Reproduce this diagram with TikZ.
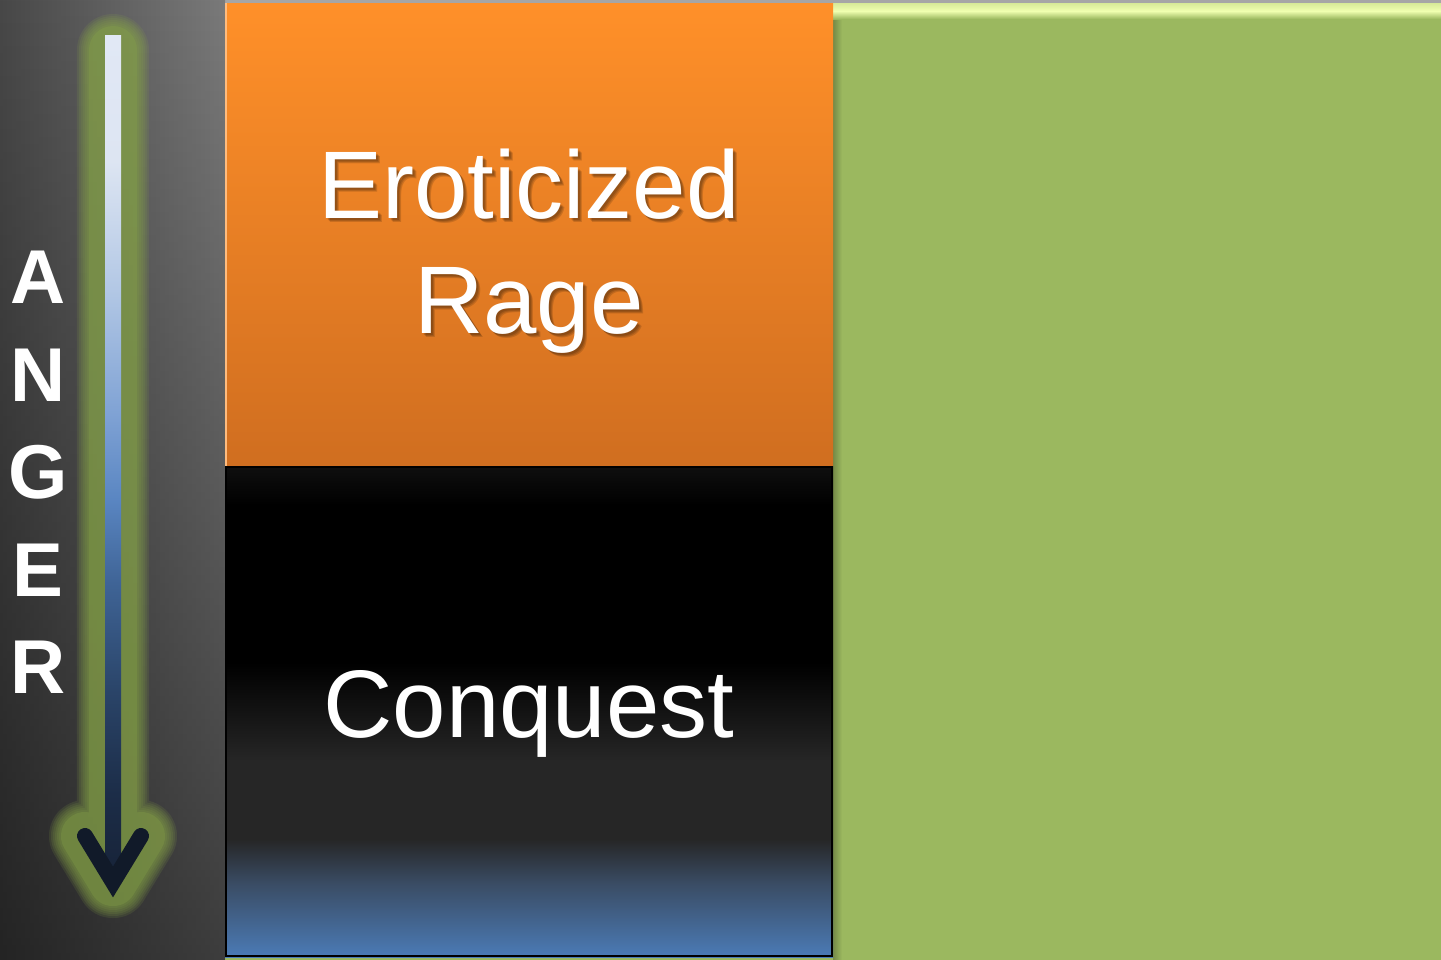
\documentclass[tikz,border=0pt]{standalone}
\usepackage{fontspec}
\setmainfont{Liberation Sans}
\usetikzlibrary{fadings}

\definecolor{panelgreen}{HTML}{9BB85F}
\definecolor{topgray}{HTML}{A6A6A6}
\definecolor{highlight}{HTML}{F0FFB0}
\definecolor{panelleft}{HTML}{484848}
\definecolor{panelright}{HTML}{7A7A7A}
\definecolor{orangetop}{HTML}{FF9029}
\definecolor{orangebottom}{HTML}{D06E20}
\definecolor{cqtop}{HTML}{0F0F0F}
\definecolor{cqgray}{HTML}{262626}
\definecolor{cqslate}{HTML}{3A4C64}
\definecolor{cqblue}{HTML}{4B7BB6}
\definecolor{glowgreen}{HTML}{88A648}
\definecolor{arrowdark}{HTML}{111A29}

\pgfdeclareverticalshading{conquestfill}{100bp}{
  color(0bp)=(cqblue); color(25bp)=(cqblue); color(32.5bp)=(cqslate);
  color(37bp)=(cqgray); color(45bp)=(cqgray); color(55bp)=(black);
  color(71bp)=(black); color(75bp)=(cqtop); color(100bp)=(cqtop)}
\pgfdeclareverticalshading{angershaft}{100bp}{
  color(0bp)=(rgb,255:red,23;green,35;blue,56); color(25bp)=(rgb,255:red,23;green,35;blue,56);
  color(30bp)=(rgb,255:red,28;green,45;blue,72); color(36bp)=(rgb,255:red,42;green,68;blue,104);
  color(42.5bp)=(rgb,255:red,63;green,100;blue,150); color(47.5bp)=(rgb,255:red,90;green,134;blue,194);
  color(52.5bp)=(rgb,255:red,127;green,162;blue,212); color(60bp)=(rgb,255:red,179;green,200;blue,229);
  color(67.5bp)=(rgb,255:red,221;green,229;blue,242); color(75bp)=(rgb,255:red,225;green,232;blue,245);
  color(100bp)=(rgb,255:red,225;green,232;blue,245)}

\tikzset{every picture/.style={line width=0.75pt},
  slidetext/.style={text=white, inner sep=0pt, align=center,
    font=\fontsize{27.3}{32.7}\selectfont},
  angertext/.style={text=white, inner sep=0pt, align=center,
    font=\bfseries\fontsize{21.7}{27.7}\selectfont},
  glow/.style={draw=glowgreen, line cap=round, line join=round, draw opacity=0.15}}

\begin{document}
\begin{tikzpicture}[x=0.01cm, y=-0.01cm]
  \useasboundingbox (0,0) rectangle (1441,960);

  % --- fond et panneau vert ---
  \fill[panelgreen] (0,0) rectangle (1441,960);
  \fill[topgray] (225,0) rectangle (1441,3);
  \shade[left color=panelgreen!75!black, right color=panelgreen] (833,3) rectangle (842,960);
  \shade[top color=panelgreen!30!highlight, bottom color=highlight] (833,3) rectangle (1441,11);
  \shade[top color=highlight, bottom color=panelgreen] (833,11) rectangle (1441,19);

  % --- panneau gauche ---
  \shade[left color=panelleft, right color=panelright] (0,0) rectangle (225,960);
  \fill[black, path fading=north, fill opacity=0.5] (0,0) rectangle (225,960);

  % --- les deux blocs ---
  \shade[top color=orangetop, bottom color=orangebottom] (225,3) rectangle (833,466);
  \draw[orangetop!60!white, line width=0.6pt] (226,3) -- (226,466);
  \shade[shading=conquestfill] (225,466) rectangle (833,957);
  \draw[black, line width=0.6pt] (226,467) rectangle (832,956);

  % --- la fleche ---
  \foreach \w in {72,68,64,60,56,52}
    \draw[glow, line width=\w*0.2845pt] (113,50) -- (113,882)
      (85,836) -- (113,882) -- (141,836);
  \draw[glow, draw opacity=0.3, line width=48*0.2845pt] (113,50) -- (113,882)
    (85,836) -- (113,882) -- (141,836);
  \shade[shading=angershaft] (105,35) rectangle (121,878);
  \draw[arrowdark, line width=4.55pt, line cap=round, line join=miter]
    (85,836) -- (113,882) -- (141,836);

  % --- textes ---
  \foreach \d in {2,3,4}
    \node[slidetext, text=black, text opacity=0.14, anchor=north] (shadow\d)
      at (529+\d,148+\d) {Eroticized\\Rage};
  \node[slidetext, anchor=north] (rage) at (529,148) {Eroticized\\Rage};
  \node[slidetext, anchor=base] (conquest) at (529,737) {Conquest};
  \node[angertext, anchor=north] (anger) at (38,250) {A\\N\\G\\E\\R};
\end{tikzpicture}
\end{document}
